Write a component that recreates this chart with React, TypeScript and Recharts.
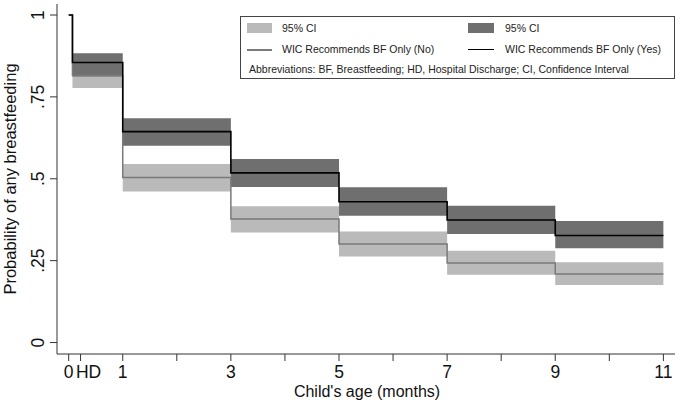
import { ComposedChart, Area, Line, XAxis, YAxis } from "recharts"

// months since birth; 0.07 is the first drop just after birth
const times = [0, 0.07, 1, 3, 5, 7, 9, 11]

// WIC recommends BF only: Yes
const yesEst = [1, 0.855, 0.644, 0.518, 0.43, 0.374, 0.327, 0.327]
const yesLo = [null, 0.812, 0.601, 0.475, 0.387, 0.331, 0.288, 0.288]
const yesHi = [null, 0.883, 0.685, 0.56, 0.474, 0.418, 0.371, 0.371]

// WIC recommends BF only: No
const noEst = [1, 0.815, 0.504, 0.377, 0.301, 0.243, 0.209, 0.209]
const noLo = [null, 0.777, 0.461, 0.336, 0.263, 0.207, 0.176, 0.176]
const noHi = [null, 0.852, 0.545, 0.416, 0.339, 0.28, 0.245, 0.245]

const xTicks = [0, 0.22, 1, 2, 3, 4, 5, 6, 7, 8, 9, 10, 11]
const xTickLabels = ["0", "HD", "1", "", "3", "", "5", "", "7", "", "9", "", "11"]
const yTicks = [0, 0.25, 0.5, 0.75, 1]
const yTickLabels = ["0", ".25", ".5", ".75", "1"]

const data = times.map((t, i) => ({
  t,
  yesEst: yesEst[i],
  noEst: noEst[i],
  yesBand: yesLo[i] == null ? null : [yesLo[i], yesHi[i]],
  noBand: noLo[i] == null ? null : [noLo[i], noHi[i]],
}))

const FONT = "'Liberation Sans', Arial, Helvetica, sans-serif"
const LIGHT = "#bababa"
const DARK = "#6f6f6f"
const GRAY_LINE = "#7a7a7a"

const XTick = (props: any) => {
  const { x, payload } = props
  const i = xTicks.indexOf(payload.value)
  const label = xTickLabels[i] ?? ""
  const dx = label === "HD" ? 8 : 0
  return (
    <text x={x + dx} y={378} textAnchor="middle" fontSize={17.5} fontFamily={FONT} fill="#111">
      {label}
    </text>
  )
}

const YTick = (props: any) => {
  const { y, payload } = props
  const i = yTicks.indexOf(payload.value)
  return (
    <text
      x={44}
      y={y}
      transform={`rotate(-90, 44, ${y})`}
      textAnchor="middle"
      fontSize={17.5}
      fontFamily={FONT}
      fill="#111"
    >
      {yTickLabels[i]}
    </text>
  )
}

function Legend() {
  const row = (top: number, children: any) => (
    <div style={{ position: "absolute", left: 0, top, width: "100%", height: 14 }}>{children}</div>
  )
  const text = (left: number, s: string) => (
    <span style={{ position: "absolute", left, top: 0, lineHeight: "14px", whiteSpace: "nowrap" }}>{s}</span>
  )
  return (
    <div
      style={{
        position: "absolute",
        left: 240,
        top: 16,
        width: 435,
        height: 63,
        boxSizing: "border-box",
        border: "1px solid #444",
        background: "#fff",
        fontFamily: FONT,
        fontSize: 10.5,
        color: "#222",
      }}
    >
      {row(
        4,
        <>
          <div style={{ position: "absolute", left: 6, top: 2, width: 25, height: 10, background: LIGHT }} />
          {text(41, "95% CI")}
          <div style={{ position: "absolute", left: 227, top: 2, width: 26, height: 10, background: DARK }} />
          {text(264, "95% CI")}
        </>
      )}
      {row(
        25,
        <>
          <div style={{ position: "absolute", left: 6, top: 7, width: 25, height: 1.5, background: GRAY_LINE }} />
          {text(41, "WIC Recommends BF Only (No)")}
          <div style={{ position: "absolute", left: 227, top: 6.5, width: 26, height: 1.8, background: "#000" }} />
          {text(264, "WIC Recommends BF Only (Yes)")}
        </>
      )}
      {row(45, text(8, "Abbreviations: BF, Breastfeeding; HD, Hospital Discharge; CI, Confidence Interval"))}
    </div>
  )
}

export default function App() {
  return (
    <div style={{ position: "absolute", left: 0, top: 0, width: 680, height: 406, background: "#fff" }}>
      <ComposedChart width={680} height={406} data={data} margin={{ top: 4, right: 5, bottom: 0, left: 0 }}>
        <XAxis
          type="number"
          dataKey="t"
          domain={[-0.216, 11.215]}
          ticks={xTicks}
          interval={0}
          allowDataOverflow
          height={52}
          tickSize={7}
          stroke="#333"
          tick={<XTick />}
          label={() => (
            <text x={367} y={397} textAnchor="middle" fontSize={16} fontFamily={FONT} fill="#111">
              Child's age (months)
            </text>
          )}
        />
        <YAxis
          type="number"
          domain={[-0.035, 1.0336]}
          ticks={yTicks}
          interval={0}
          allowDataOverflow
          width={57}
          tickSize={7}
          stroke="#333"
          tick={<YTick />}
          label={() => (
            <text
              x={16}
              y={179}
              transform="rotate(-90, 16, 179)"
              textAnchor="middle"
              fontSize={16.5}
              fontFamily={FONT}
              fill="#111"
            >
              Probability of any breastfeeding
            </text>
          )}
        />
        <Area
          type="stepAfter"
          dataKey="noBand"
          fill={LIGHT}
          fillOpacity={1}
          stroke="none"
          isAnimationActive={false}
        />
        <Area
          type="stepAfter"
          dataKey="yesBand"
          fill={DARK}
          fillOpacity={1}
          stroke="none"
          isAnimationActive={false}
        />
        <Line
          type="stepAfter"
          dataKey="noEst"
          stroke={GRAY_LINE}
          strokeWidth={1.5}
          dot={false}
          isAnimationActive={false}
        />
        <Line
          type="stepAfter"
          dataKey="yesEst"
          stroke="#000"
          strokeWidth={1.6}
          dot={false}
          isAnimationActive={false}
        />
      </ComposedChart>
      <Legend />
    </div>
  )
}
